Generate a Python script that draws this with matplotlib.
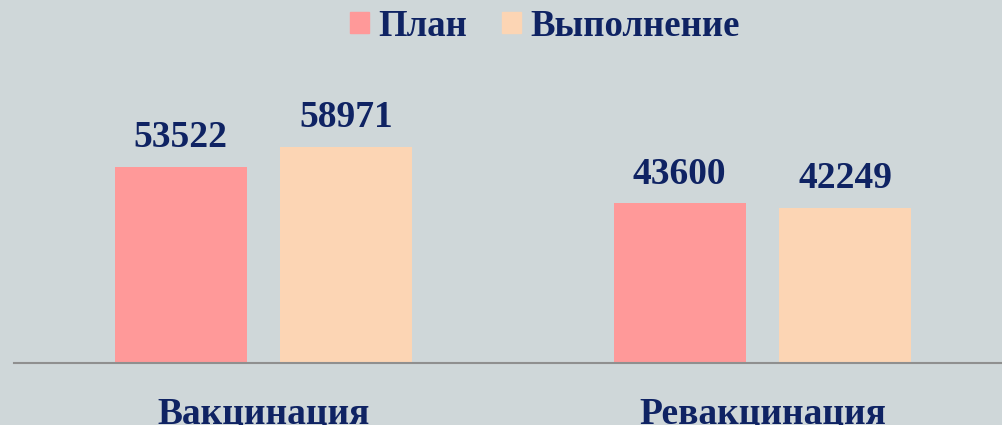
import matplotlib
matplotlib.use("Agg")
import matplotlib.pyplot as plt
from matplotlib.patches import Patch
import numpy as np

categories = ["Вакцинация", "Ревакцинация"]
series_names = ["План", "Выполнение"]
plan = [53522, 43600]
done = [58971, 42249]

bg = "#cfd7d9"
navy = "#0f2363"
c_plan = "#ff9999"
c_done = "#fcd5b4"

plt.rcParams['font.family'] = ['Liberation Serif', 'DejaVu Serif']

fig = plt.figure(figsize=(10.02, 4.25), dpi=100, facecolor=bg)
W, H = 1002, 425
ax = fig.add_axes([14 / W, (H - 363) / H, 998 / W, 293 / H])
ax.set_facecolor(bg)

x = np.arange(len(categories))
bw = 0.2645
off = 0.166
b1 = ax.bar(x - off, plan, bw, color=c_plan, label=series_names[0], zorder=2)
b2 = ax.bar(x + off, done, bw, color=c_done, label=series_names[1], zorder=2)

for bars in (b1, b2):
    for r in bars:
        ax.annotate(f"{int(r.get_height())}", (r.get_x() + r.get_width() / 2, r.get_height()),
                    xytext=(0, 8.5), textcoords="offset points", ha="center", va="bottom",
                    fontsize=27, fontweight="bold", color=navy)

ax.set_xlim(-0.5, 1.5)
ax.set_ylim(0, 80000)
ax.set_xticks(x)
ax.set_xticklabels(categories, fontsize=27, fontweight="bold", color=navy)
ax.tick_params(axis="x", length=0, pad=24)
ax.set_yticks([])
for s in ("top", "right", "left"):
    ax.spines[s].set_visible(False)
ax.spines["bottom"].set_color("#8f8f8f")
ax.spines["bottom"].set_linewidth(1.5)

handles = [Patch(color=c_plan), Patch(color=c_done)]
leg = fig.legend(handles, series_names, loc="center", bbox_to_anchor=(545 / W, 1 - 26 / H),
                 ncol=2, frameon=False, handlelength=0.52, handleheight=0.52,
                 handletextpad=0.24, columnspacing=0.95,
                 prop={"size": 26.5, "weight": "bold"})
for t in leg.get_texts():
    t.set_color(navy)

fig.savefig("out.png", dpi=100, facecolor=bg)
